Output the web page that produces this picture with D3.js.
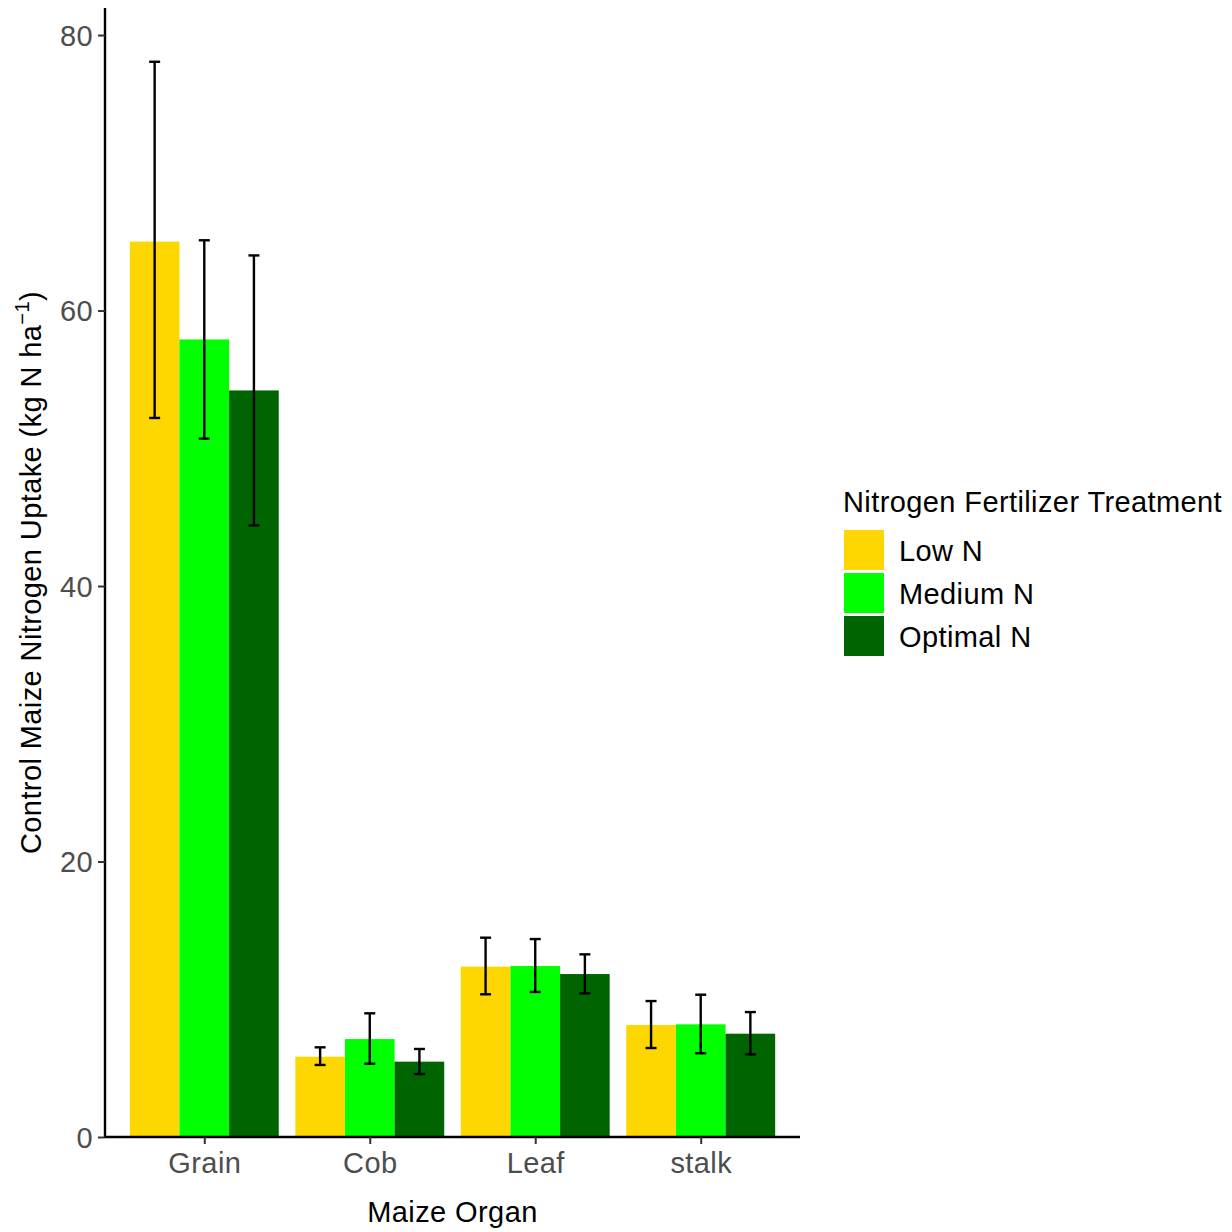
<!DOCTYPE html>
<html><head><meta charset="utf-8">
<script src="https://cdn.jsdelivr.net/npm/d3@7"></script>
<style>body{margin:0;background:#fff}text{font-family:"Liberation Sans",Arial,sans-serif}</style>
</head><body>
<svg id="chart" width="1232" height="1232"></svg>
<script>
const organs = ["Grain","Cob","Leaf","stalk"];
const treatments = ["Low N","Medium N","Optimal N"];
const colors = ["#FFD700","#00FF00","#006400"];
// mean values per treatment (order of organs)
const lowMean = [65.0, 5.83, 12.37, 8.13];
const medMean = [57.9, 7.11, 12.41, 8.18];
const optMean = [54.2, 5.47, 11.83, 7.50];
// error bar lower / upper bounds
const lowLo = [52.2, 5.23, 10.36, 6.46];
const lowHi = [78.06, 6.51, 14.47, 9.87];
const medLo = [50.7, 5.32, 10.53, 6.08];
const medHi = [65.1, 8.98, 14.37, 10.33];
const optLo = [44.4, 4.57, 10.43, 6.0];
const optHi = [64.0, 6.39, 13.26, 9.07];
const yTicks = [0,20,40,60,80];

const means=[lowMean,medMean,optMean], los=[lowLo,medLo,optLo], his=[lowHi,medHi,optHi];
const data=[];
organs.forEach((o,i)=>treatments.forEach((t,j)=>data.push({organ:o,trt:t,j,mean:means[j][i],lo:los[j][i],hi:his[j][i]})));

const FS=29, LS="0.4px";
const svg=d3.select("#chart");
const L=105,R=800,T=8,B=1137;
// ggplot-like discrete axis: expansion 0.6 each side, bar group width 0.9
const x=d3.scalePoint().domain(organs).range([L,R]).padding(0.6);
const unit=x.step();
const dodge=d3.scaleBand().domain(treatments).range([-unit*0.45,unit*0.45]);
const ymax=d3.max(data,d=>d.hi)*1.05;
const y=d3.scaleLinear().domain([0,ymax]).range([B,T]);
const color=d3.scaleOrdinal().domain(treatments).range(colors);

svg.append("g").selectAll("rect").data(data).join("rect")
 .attr("x",d=>x(d.organ)+dodge(d.trt)).attr("width",dodge.bandwidth())
 .attr("y",d=>y(d.mean)).attr("height",d=>B-y(d.mean)).attr("fill",d=>color(d.trt));

const eb=svg.append("g").attr("stroke","#000").attr("stroke-width",2.4);
data.forEach(d=>{
 const m=x(d.organ)+dodge(d.trt)+dodge.bandwidth()/2, w=5.5;
 eb.append("line").attr("x1",m).attr("x2",m).attr("y1",y(d.lo)).attr("y2",y(d.hi));
 eb.append("line").attr("x1",m-w).attr("x2",m+w).attr("y1",y(d.lo)).attr("y2",y(d.lo));
 eb.append("line").attr("x1",m-w).attr("x2",m+w).attr("y1",y(d.hi)).attr("y2",y(d.hi));
});

// y axis
const ya=svg.append("g").attr("transform",`translate(${L},0)`)
 .call(d3.axisLeft(y).tickValues(yTicks).tickSize(7).tickPadding(5));
ya.select(".domain").attr("stroke","#000").attr("stroke-width",2.4).attr("d",`M0,${T}V${B}`);
ya.selectAll(".tick line").attr("stroke","#333").attr("stroke-width",2);
ya.selectAll(".tick text").attr("font-size",FS).attr("letter-spacing",LS).attr("fill","#4D4D4D").attr("font-family","Liberation Sans, Arial, sans-serif").attr("dy","0.36em");

// x axis
const xa=svg.append("g").attr("transform",`translate(0,${B})`)
 .call(d3.axisBottom(x).tickSize(7).tickPadding(8));
xa.select(".domain").attr("stroke","#000").attr("stroke-width",2.4).attr("d",`M${L},0H${R}`);
xa.selectAll(".tick line").attr("stroke","#333").attr("stroke-width",2);
xa.selectAll(".tick text").attr("font-size",FS).attr("letter-spacing",LS).attr("fill","#4D4D4D").attr("font-family","Liberation Sans, Arial, sans-serif").attr("dy","0.71em");

svg.append("text").attr("x",(L+R)/2).attr("y",1222).attr("text-anchor","middle").attr("font-size",FS).attr("letter-spacing",LS).attr("fill","#000").text("Maize Organ");
const yt=svg.append("text").attr("transform",`translate(41,${(T+B)/2}) rotate(-90)`).attr("text-anchor","middle").attr("font-size",FS).attr("letter-spacing",LS).attr("fill","#000");
yt.append("tspan").text("Control Maize Nitrogen Uptake (kg N ha");
yt.append("tspan").attr("font-size",20).attr("dy",-12).text("\u22121");
yt.append("tspan").attr("dy",12).text(")");

// legend
const lg=svg.append("g");
lg.append("text").attr("x",843).attr("y",512).attr("font-size",FS).attr("letter-spacing",LS).attr("fill","#000").text("Nitrogen Fertilizer Treatment");
treatments.forEach((t,i)=>{
 lg.append("rect").attr("x",844).attr("y",530+i*43).attr("width",40).attr("height",40).attr("fill",color(t));
 lg.append("text").attr("x",899).attr("y",561+i*43).attr("font-size",FS).attr("letter-spacing",LS).attr("fill","#000").text(t);
});
</script>
</body></html>
